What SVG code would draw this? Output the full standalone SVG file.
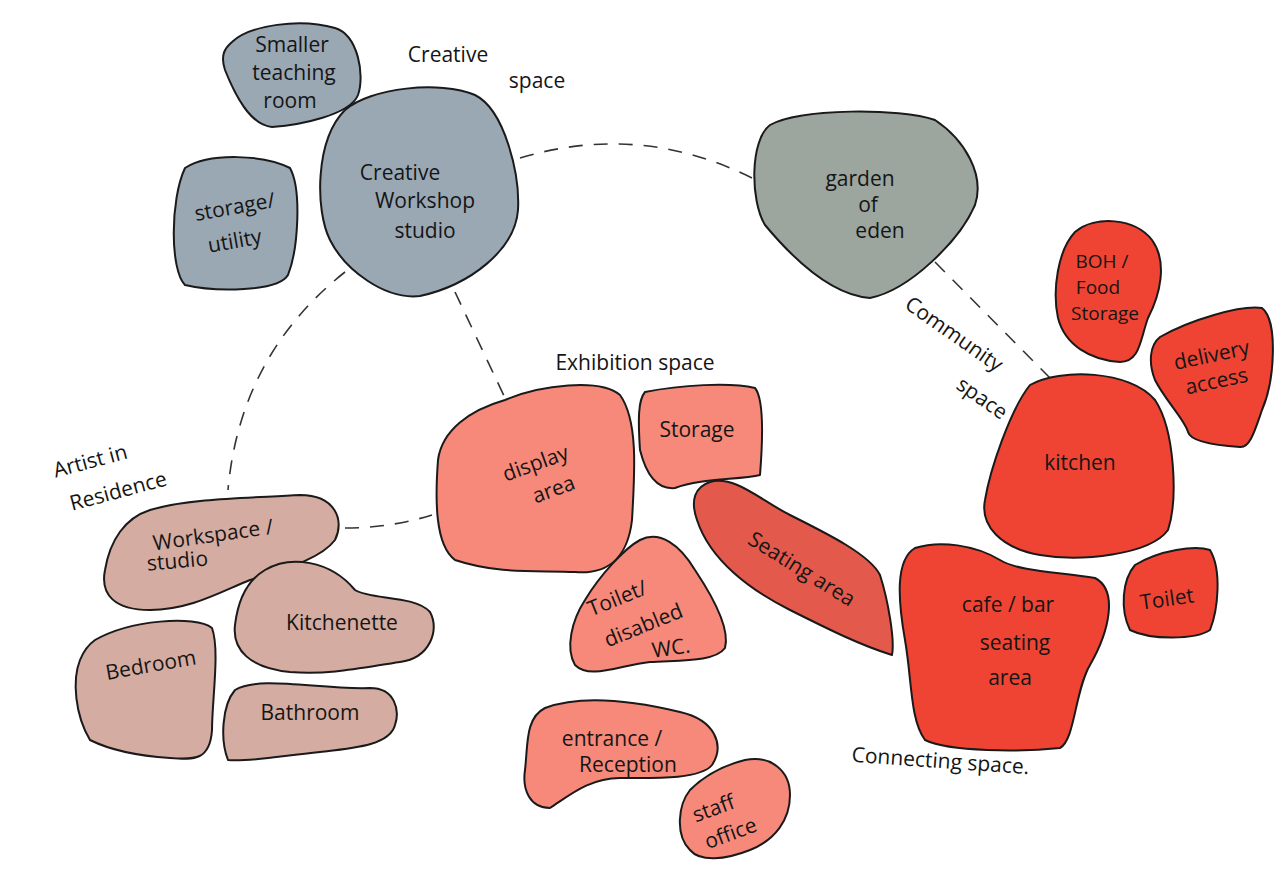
<svg xmlns="http://www.w3.org/2000/svg" width="1286" height="879" viewBox="0 0 1286 879">
<style>
.b{stroke:#1a1a1a;stroke-width:2;stroke-linejoin:round}
.cr{fill:#9aa8b4}
.gd{fill:#9ca59e}
.ar{fill:#d5aca1}
.ex{fill:#f6897a}
.st{fill:#e3594b}
.cm{fill:#ef4433}
text{font-family:"Open Sans","DejaVu Sans",sans-serif;font-size:21px;fill:#151515;text-anchor:middle}
.sm{font-size:19px}
.c{fill:none;stroke:#333;stroke-width:1.6;stroke-dasharray:14 11}
</style>
<rect width="1286" height="879" fill="#ffffff"/>
<g id="connectors">
<path class="c" d="M 520 158 Q 640 122 752 178"/>
<path class="c" d="M 935 262 L 1050 378"/>
<path class="c" d="M 345 272 Q 240 355 228 490"/>
<path class="c" d="M 455 292 L 505 398"/>
<path class="c" d="M 345 528 Q 390 528 432 515"/>
</g>
<g id="labels">
<text x="448" y="62">Creative</text>
<text x="537" y="88">space</text>
<text x="635" y="370">Exhibition space</text>
<text transform="translate(950,340) rotate(35)">Community</text>
<text transform="translate(978,404) rotate(35)">space</text>
<text transform="translate(940,768) rotate(4)">Connecting space.</text>
<text transform="translate(92,468) rotate(-15)">Artist in</text>
<text transform="translate(120,498) rotate(-15)">Residence</text>
</g>
<g id="smaller-teaching-room">
<path class="b cr" d="M 232 42 C 250 25, 300 18, 335 28 C 358 35, 365 75, 358 95 C 350 115, 300 125, 272 127 C 250 125, 235 95, 225 70 C 220 55, 225 48, 232 42 Z"/>
<text x="292" y="52">Smaller</text>
<text x="294" y="80">teaching</text>
<text x="290" y="108">room</text>
</g>
<g id="creative-workshop-studio">
<path class="b cr" d="M 345 110 C 370 88, 440 80, 475 95 C 505 110, 520 175, 518 210 C 515 250, 470 285, 420 296 C 385 300, 345 270, 330 240 C 315 210, 315 140, 345 110 Z"/>
<text x="400" y="180">Creative</text>
<text x="425" y="208">Workshop</text>
<text x="425" y="238">studio</text>
</g>
<g id="storage-utility">
<path class="b cr" d="M 185 168 C 210 152, 265 155, 290 168 C 302 190, 298 250, 288 275 C 278 292, 215 292, 185 285 C 170 270, 170 200, 185 168 Z"/>
<text transform="translate(236,214) rotate(-10)">storage/</text>
<text transform="translate(236,248) rotate(-10)">utility</text>
</g>
<g id="garden-of-eden">
<path class="b gd" d="M 770 125 C 800 108, 900 108, 935 120 C 965 140, 985 175, 975 205 C 960 240, 910 290, 870 298 C 830 295, 790 255, 765 225 C 750 200, 750 140, 770 125 Z"/>
<text x="860" y="186">garden</text>
<text x="868" y="212">of</text>
<text x="880" y="238">eden</text>
</g>
<g id="boh-food-storage">
<path class="b cm" d="M 1075 232 C 1095 215, 1135 218, 1152 240 C 1168 262, 1160 295, 1148 318 C 1140 340, 1140 362, 1120 362 C 1090 360, 1065 345, 1058 318 C 1052 290, 1058 250, 1075 232 Z"/>
<text class="sm" x="1102" y="268">BOH /</text>
<text class="sm" x="1098" y="294">Food</text>
<text class="sm" x="1105" y="320">Storage</text>
</g>
<g id="delivery-access">
<path class="b cm" d="M 1160 337 C 1190 320, 1240 305, 1262 308 C 1278 320, 1275 380, 1262 410 C 1255 430, 1250 448, 1240 447 C 1210 445, 1190 440, 1188 432 C 1185 420, 1165 400, 1155 380 C 1148 362, 1150 345, 1160 337 Z"/>
<text transform="translate(1213,362) rotate(-12)">delivery</text>
<text transform="translate(1218,388) rotate(-12)">access</text>
</g>
<g id="kitchen">
<path class="b cm" d="M 1030 385 C 1060 368, 1130 370, 1155 400 C 1175 430, 1178 500, 1168 530 C 1150 555, 1080 562, 1040 555 C 1000 548, 980 525, 985 500 C 990 470, 1010 410, 1030 385 Z"/>
<text x="1080" y="470">kitchen</text>
</g>
<g id="cafe-bar-seating-area">
<path class="b cm" d="M 915 548 C 940 540, 975 545, 1000 560 C 1020 572, 1060 572, 1095 578 C 1118 590, 1110 630, 1090 665 C 1075 690, 1075 740, 1060 748 C 1020 752, 950 752, 925 740 C 910 720, 912 680, 905 640 C 898 600, 895 560, 915 548 Z"/>
<text x="1008" y="612">cafe / bar</text>
<text x="1015" y="650">seating</text>
<text x="1010" y="685">area</text>
</g>
<g id="toilet">
<path class="b cm" d="M 1135 565 C 1160 550, 1195 545, 1210 550 C 1222 570, 1218 610, 1210 630 C 1195 640, 1150 640, 1130 630 C 1120 610, 1122 580, 1135 565 Z"/>
<text transform="translate(1168,606) rotate(-8)">Toilet</text>
</g>
<g id="display-area">
<path class="b ex" d="M 505 400 C 540 385, 600 378, 620 395 C 638 420, 635 470, 632 520 C 628 555, 610 575, 575 572 C 540 570, 500 575, 455 560 C 435 545, 435 500, 438 460 C 442 430, 470 410, 505 400 Z"/>
<text transform="translate(538,470) rotate(-20)">display</text>
<text transform="translate(556,496) rotate(-20)">area</text>
</g>
<g id="storage">
<path class="b ex" d="M 645 392 C 680 385, 730 382, 755 388 C 765 400, 762 450, 760 475 C 740 480, 700 478, 675 488 C 655 490, 645 470, 640 450 C 638 420, 638 400, 645 392 Z"/>
<text x="697" y="437">Storage</text>
</g>
<g id="seating-area">
<path class="b st" d="M 710 482 C 735 475, 760 500, 790 515 C 830 535, 870 555, 880 575 C 888 600, 895 640, 892 655 C 860 645, 830 630, 790 610 C 750 590, 710 560, 697 520 C 690 500, 695 487, 710 482 Z"/>
<text transform="translate(798,575) rotate(32)">Seating area</text>
</g>
<g id="toilet-disabled-wc">
<path class="b ex" d="M 640 540 C 660 530, 680 545, 695 570 C 715 600, 730 630, 725 648 C 715 662, 680 660, 650 662 C 620 665, 590 680, 575 665 C 565 648, 572 620, 585 600 C 600 575, 625 548, 640 540 Z"/>
<text transform="translate(620,605) rotate(-22)">Toilet/</text>
<text transform="translate(646,632) rotate(-22)">disabled</text>
<text transform="translate(672,655) rotate(-8)">WC.</text>
</g>
<g id="entrance-reception">
<path class="b ex" d="M 545 708 C 580 695, 630 700, 680 712 C 715 720, 725 745, 712 765 C 700 780, 650 778, 620 778 C 590 778, 570 795, 550 808 C 530 808, 522 790, 525 770 C 528 745, 525 718, 545 708 Z"/>
<text x="612" y="746">entrance /</text>
<text x="628" y="772">Reception</text>
</g>
<g id="staff-office">
<path class="b ex" d="M 745 760 C 770 755, 790 770, 790 795 C 790 820, 775 840, 750 850 C 725 860, 700 862, 690 850 C 675 835, 678 805, 690 790 C 705 775, 725 765, 745 760 Z"/>
<text transform="translate(716,815) rotate(-20)">staff</text>
<text transform="translate(733,840) rotate(-20)">office</text>
</g>
<g id="workspace-studio">
<path class="b ar" d="M 150 510 C 190 498, 250 498, 300 495 C 335 495, 345 520, 335 540 C 320 560, 280 570, 250 580 C 220 592, 190 610, 150 610 C 115 610, 100 595, 105 570 C 110 540, 125 518, 150 510 Z"/>
<text transform="translate(214,542) rotate(-8)">Workspace /</text>
<text transform="translate(178,568) rotate(-5)">studio</text>
</g>
<g id="kitchenette">
<path class="b ar" d="M 265 570 C 290 555, 330 560, 355 590 C 370 600, 415 595, 430 612 C 440 630, 430 658, 400 662 C 360 668, 330 675, 290 672 C 250 668, 232 650, 235 625 C 238 600, 248 580, 265 570 Z"/>
<text x="342" y="630">Kitchenette</text>
</g>
<g id="bedroom">
<path class="b ar" d="M 95 640 C 130 620, 195 615, 212 628 C 220 650, 212 700, 212 730 C 210 760, 195 760, 170 758 C 140 756, 110 750, 90 740 C 75 715, 72 680, 80 660 C 84 650, 88 645, 95 640 Z"/>
<text transform="translate(152,672) rotate(-10)">Bedroom</text>
</g>
<g id="bathroom">
<path class="b ar" d="M 235 690 C 260 675, 320 690, 370 688 C 395 688, 400 710, 395 725 C 390 745, 355 748, 320 752 C 280 756, 250 762, 228 760 C 220 740, 222 705, 235 690 Z"/>
<text x="310" y="720">Bathroom</text>
</g>
</svg>
